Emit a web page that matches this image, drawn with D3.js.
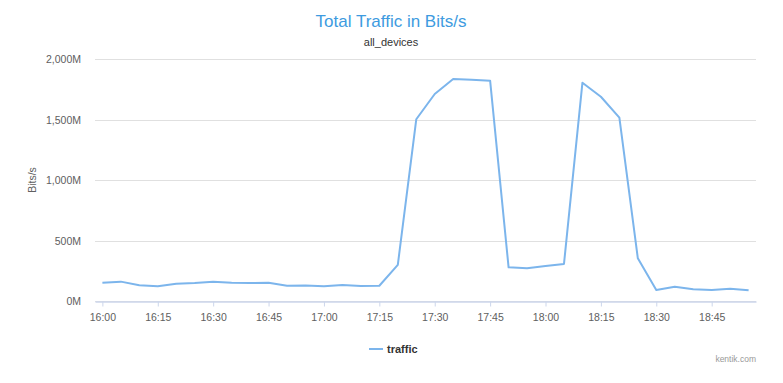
<!DOCTYPE html>
<html>
<head>
<meta charset="utf-8" />
<title>Total Traffic in Bits/s</title>
<script src="https://d3js.org/d3.v7.min.js"></script>
<style>
    body { margin: 0; background: #fff; }
    svg text { font-family: "Lucida Grande", "Liberation Sans", Arial, sans-serif; }
</style>
</head>
<body>
<div id="chart"></div>
<script>
// 5 minute samples from 16:00 to 18:55, values in Mbit/s
var startTime = "16:00";
var stepMinutes = 5;
var traffic = [151, 160, 130, 121, 143, 149, 160, 151, 149, 151,
               126, 128, 121, 132, 124, 126, 298, 1502, 1711, 1835,
               1829, 1821, 278, 270, 289, 306, 1804, 1688, 1515, 353,
               91, 118, 97, 91, 102, 88];
var yTicks = [0, 500, 1000, 1500, 2000];
var xTickLabels = ["16:00", "16:15", "16:30", "16:45", "17:00", "17:15",
                   "17:30", "17:45", "18:00", "18:15", "18:30", "18:45"];

var W = 783, H = 383;
var margin = {left: 95, right: 27, top: 59, bottom: 82};

var parse = d3.timeParse("%H:%M");
var t0 = parse(startTime);
var data = traffic.map(function(v, i) {
    return {t: d3.timeMinute.offset(t0, i * stepMinutes), v: v};
});

var svg = d3.select("#chart").append("svg")
    .attr("width", W)
    .attr("height", H);

var x = d3.scaleTime()
    .domain([d3.timeMinute.offset(t0, -1.5), d3.timeMinute.offset(t0, 177)])
    .range([margin.left, W - margin.right]);
var y = d3.scaleLinear()
    .domain([0, 2000])
    .range([H - margin.bottom, margin.top]);

// gridlines
svg.append("g")
    .selectAll("line")
    .data(yTicks)
    .enter().append("line")
    .attr("x1", margin.left)
    .attr("x2", W - margin.right)
    .attr("y1", function(d) { return Math.round(y(d)) + 0.5; })
    .attr("y2", function(d) { return Math.round(y(d)) + 0.5; })
    .attr("stroke", "#e0e0e0")
    .attr("stroke-width", 1.2);

// y labels
svg.append("g")
    .selectAll("text")
    .data(yTicks)
    .enter().append("text")
    .attr("x", 81)
    .attr("y", function(d) { return y(d) + 4; })
    .attr("text-anchor", "end")
    .attr("font-size", "10.5px")
    .attr("fill", "#606060")
    .text(function(d) { return d3.format(",")(d) + "M"; });

svg.append("text")
    .attr("transform", "translate(36," + y(1000) + ") rotate(-90)")
    .attr("text-anchor", "middle")
    .attr("font-size", "10.5px")
    .attr("fill", "#606060")
    .text("Bits/s");

// x axis
var xTickDates = xTickLabels.map(parse);
var xAxis = d3.axisBottom(x)
    .tickValues(xTickDates)
    .tickSize(5)
    .tickSizeOuter(0)
    .tickFormat(d3.timeFormat("%H:%M"));
var gx = svg.append("g")
    .attr("transform", "translate(0," + (y(0) + 0.5) + ")")
    .call(xAxis);
gx.select(".domain").attr("stroke", "#ccd6eb").attr("stroke-width", 1.5);
gx.selectAll(".tick line").attr("stroke", "#ccd6eb");
gx.selectAll(".tick text")
    .attr("font-size", "10.5px")
    .attr("fill", "#606060")
    .attr("font-family", null)
    .attr("dy", "1.1em");

// series line
var line = d3.line()
    .x(function(d) { return x(d.t); })
    .y(function(d) { return y(d.v); });
svg.append("path")
    .datum(data)
    .attr("d", line)
    .attr("fill", "none")
    .attr("stroke", "#7cb5ec")
    .attr("stroke-width", 2)
    .attr("stroke-linejoin", "round");

// titles
svg.append("text")
    .attr("x", 391)
    .attr("y", 27)
    .attr("text-anchor", "middle")
    .attr("font-size", "17px")
    .attr("fill", "#3d9be0")
    .text("Total Traffic in Bits/s");
svg.append("text")
    .attr("x", 391)
    .attr("y", 46)
    .attr("text-anchor", "middle")
    .attr("font-size", "11px")
    .attr("fill", "#333")
    .text("all_devices");

// legend
svg.append("line")
    .attr("x1", 369).attr("x2", 383)
    .attr("y1", 349).attr("y2", 349)
    .attr("stroke", "#7cb5ec")
    .attr("stroke-width", 2);
svg.append("text")
    .attr("x", 387)
    .attr("y", 353)
    .attr("font-size", "11px")
    .attr("font-weight", "bold")
    .attr("fill", "#333")
    .text("traffic");

svg.append("text")
    .attr("x", 756)
    .attr("y", 362)
    .attr("text-anchor", "end")
    .attr("font-size", "8.5px")
    .attr("fill", "#999")
    .text("kentik.com");
</script>
</body>
</html>
